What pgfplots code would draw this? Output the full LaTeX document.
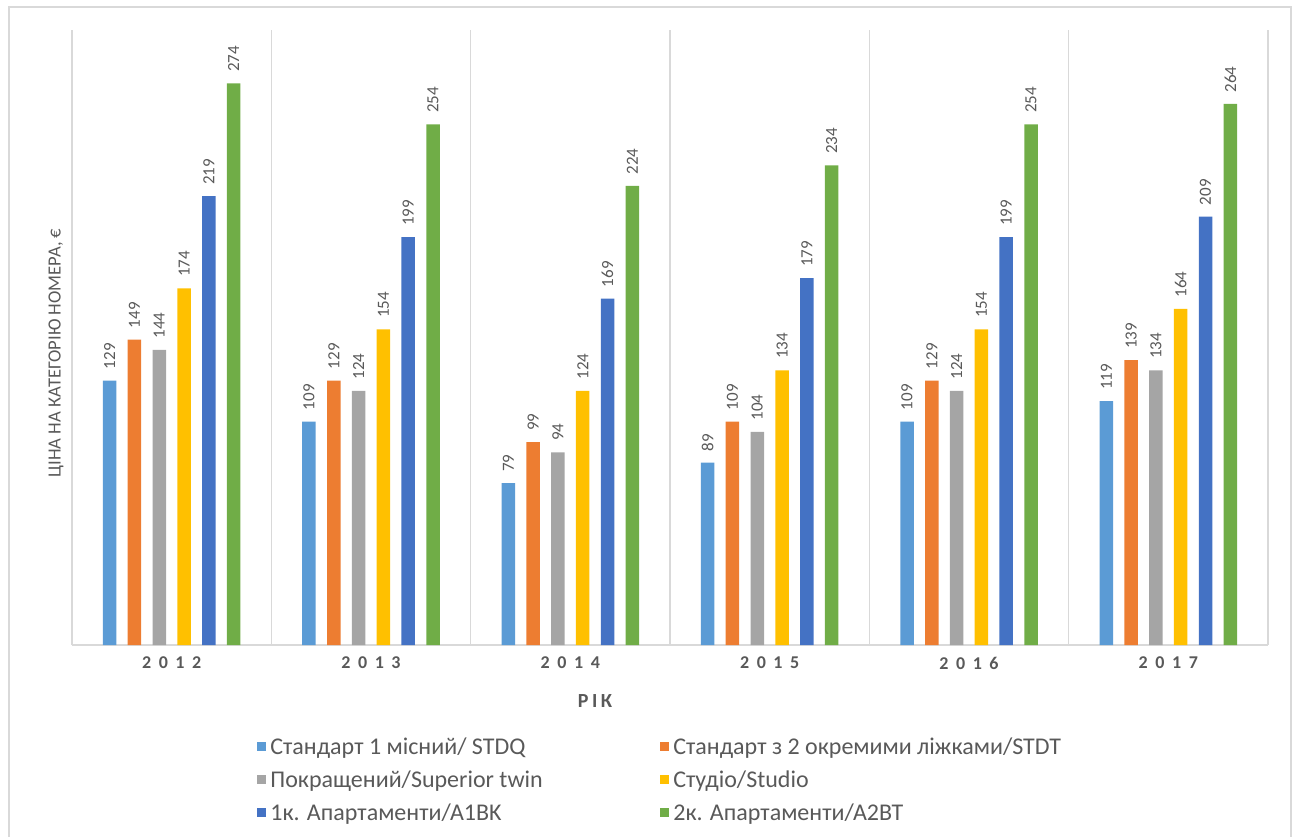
\documentclass[border=0pt]{standalone}
\usepackage{pgfplots}
\usepackage{pgfplotstable}
\pgfplotsset{compat=1.18}
\usepackage{fontspec}
\setmainfont{Carlito}
\definecolor{c1}{HTML}{5B9BD5}
\definecolor{c2}{HTML}{ED7D31}
\definecolor{c3}{HTML}{A5A5A5}
\definecolor{c4}{HTML}{FFC000}
\definecolor{c5}{HTML}{4472C4}
\definecolor{c6}{HTML}{70AD47}
\definecolor{txt}{HTML}{595959}
\definecolor{gridc}{HTML}{D9D9D9}
\pgfplotstableread{
x s1 s2 s3 s4 s5 s6
0 129 149 144 174 219 274
1 109 129 124 154 199 254
2 79 99 94 124 169 224
3 89 109 104 134 179 234
4 109 129 124 154 199 254
5 119 139 134 164 209 264
}\data
\begin{document}
\begin{tikzpicture}[x=0.5pt,y=0.5pt]
\path[use as bounding box] (0,0) rectangle (1301,836);
\draw[gridc, line width=1pt] (9,-2) -- (9,829) -- (1291,829) -- (1291,-2);
\begin{axis}[
  at={(36pt,95.5pt)}, anchor=south west,
  scale only axis, width=598pt, height=307.5pt,
  ymin=0, ymax=300, xmin=-0.5, xmax=5.5,
  clip=false,
  /pgf/number format/assume math mode=true,
  axis x line*=bottom, axis y line=none,
  x axis line style={gridc, line width=0.8pt, -},
  xtick={0,...,5},
  xticklabels={2012,2013,2014,2015,2016,2017},
  minor xtick={-0.5,0.5,...,5.5},
  xminorgrids,
  minor grid style={gridc, line width=0.7pt},
  major tick length=0pt, minor tick length=0pt,
  ytick=\empty,
  xticklabel style={text=txt, font=\fontsize{9}{9}\selectfont\bfseries\addfontfeature{LetterSpace=42}, yshift=-2.5pt},
  ybar=5.65pt, bar width=6.75pt,
  nodes near coords,
  every node near coord/.append style={rotate=90, anchor=west, inner xsep=5.5pt, inner ysep=0pt,
     text=txt, font=\fontsize{8.5}{8.5}\selectfont},
  legend columns=2,
  legend cell align=left,
  legend image code/.code={\path[#1, draw=none] (0pt,-2.2pt) rectangle (4.5pt,2.2pt);},
  legend style={at={(0.1547,-0.1374)}, anchor=north west, draw=none, fill=none,
     inner sep=0pt, row sep=0pt, font=\fontsize{12}{12}\selectfont, text=txt,
     nodes={inner sep=0pt, text height=12.5pt, text depth=4pt},
     /tikz/every odd column/.style={column sep=2pt}},
]
\addplot[fill=c1, draw=none] table[x=x, y=s1] {\data};
\addlegendentry{\makebox[195pt][l]{Стандарт 1 місний/ STDQ}}
\addplot[fill=c2, draw=none] table[x=x, y=s2] {\data};
\addlegendentry{Стандарт з 2 окремими ліжками/STDT}
\addplot[fill=c3, draw=none] table[x=x, y=s3] {\data};
\addlegendentry{\makebox[195pt][l]{Покращений/Superior twin}}
\addplot[fill=c4, draw=none] table[x=x, y=s4] {\data};
\addlegendentry{Студіо/Studio}
\addplot[fill=c5, draw=none] table[x=x, y=s5] {\data};
\addlegendentry{\makebox[195pt][l]{1к. Апартаменти/A1BK}}
\addplot[fill=c6, draw=none] table[x=x, y=s6] {\data};
\addlegendentry{2к. Апартаменти/A2BT}
\end{axis}
\node[text=txt, font=\fontsize{10}{10}\selectfont\bfseries\addfontfeature{LetterSpace=18}] at (595,135) {РІК};
\node[rotate=90, text=txt, font=\fontsize{9.3}{9.3}\selectfont] at (56,483) {ЦІНА НА КАТЕГОРІЮ НОМЕРА, €};
\end{tikzpicture}
\end{document}
